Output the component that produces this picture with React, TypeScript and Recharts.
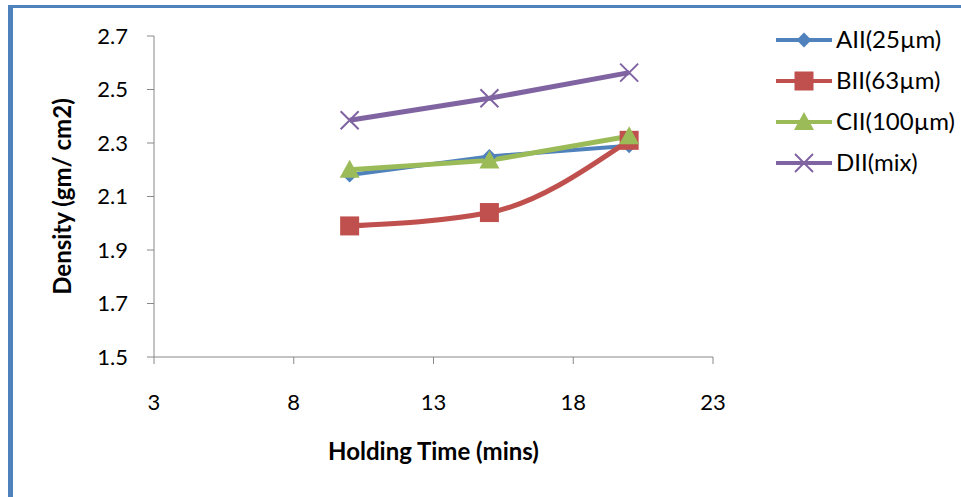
import React from "react";
import { LineChart, Line, XAxis, YAxis, Label } from "recharts";

const holdingTime = [10, 15, 20];
const seriesNames = ["AII(25µm)", "BII(63µm)", "CII(100µm)", "DII(mix)"];
const aii = [2.18, 2.25, 2.29];
const bii = [1.99, 2.04, 2.31];
const cii = [2.2, 2.235, 2.325];
const dii = [2.385, 2.467, 2.563];
const xTicks = [3, 8, 13, 18, 23];
const yTicks = [1.5, 1.7, 1.9, 2.1, 2.3, 2.5, 2.7];

const data = holdingTime.map((t, i) => ({ t, a: aii[i], b: bii[i], c: cii[i], d: dii[i] }));

const FONT = "Lato, 'Open Sans', sans-serif";
const BLUE = "#4F81BD";
const RED = "#C0504D";
const GREEN = "#9BBB59";
const PURPLE = "#8064A2";

function marker(kind: string, cx: number, cy: number, color: string, key?: string) {
  if (kind === "diamond") {
    const r = 7.5;
    return <path key={key} d={`M${cx},${cy - r}L${cx + r},${cy}L${cx},${cy + r}L${cx - r},${cy}Z`} fill={color} />;
  }
  if (kind === "square") {
    const r = 9.5;
    return <rect key={key} x={cx - r} y={cy - r} width={r * 2} height={r * 2} fill={color} />;
  }
  if (kind === "triangle") {
    return <path key={key} d={`M${cx},${cy - 10}L${cx + 10},${cy + 8}L${cx - 10},${cy + 8}Z`} fill={color} />;
  }
  const r = 9;
  return (
    <path key={key} d={`M${cx - r},${cy - r}L${cx + r},${cy + r}M${cx + r},${cy - r}L${cx - r},${cy + r}`} stroke={color} strokeWidth={2} fill="none" />
  );
}

const series = [
  { key: "a", name: seriesNames[0], color: BLUE, kind: "diamond", width: 4, type: "linear" },
  { key: "b", name: seriesNames[1], color: RED, kind: "square", width: 5, type: "monotone" },
  { key: "c", name: seriesNames[2], color: GREEN, kind: "triangle", width: 5, type: "linear" },
  { key: "d", name: seriesNames[3], color: PURPLE, kind: "cross", width: 5, type: "linear" },
];

// legend drawn by hand so it does not eat into the plot area
function LegendBox() {
  return (
    <svg width={185} height={170}>
      {series.map((s, i) => {
        const y = 20 + i * 41;
        return (
          <g key={s.key}>
            <line x1={2} x2={58} y1={y} y2={y} stroke={s.color} strokeWidth={4} />
            {marker(s.kind, 30, y, s.color)}
            <text x={62} y={y + 8} fontSize={24} fontFamily={FONT} fill="#000">
              {s.name}
            </text>
          </g>
        );
      })}
    </svg>
  );
}

export default function App() {
  return (
    <div style={{ position: "absolute", left: 0, top: 0, width: 961, height: 497, background: "#fff", overflow: "hidden" }}>
      <div style={{ position: "absolute", left: 0, top: 0 }}>
        <LineChart
          width={961}
          height={497}
          data={data}
          margin={{ top: 36, right: 248, bottom: 110, left: 40 }}
          style={{ fontFamily: FONT }}
        >
          <XAxis
            dataKey="t"
            type="number"
            domain={[3, 23]}
            ticks={xTicks}
            stroke="#888"
            tickSize={7}
            tickMargin={30}
            height={30}
            tick={{ fill: "#000", fontSize: 22 }}
            tickLine={{ stroke: "#888" }}
          >
            <Label value="Holding Time (mins)" position="bottom" offset={56} fill="#000" fontSize={24} fontWeight="bold" />
          </XAxis>
          <YAxis
            type="number"
            domain={[1.5, 2.7]}
            ticks={yTicks}
            width={114}
            stroke="#888"
            tickSize={7}
            tickMargin={19}
            tick={{ fill: "#000", fontSize: 22 }}
            tickFormatter={(v: number) => v.toFixed(1)}
            interval={0}
          >
            <Label value="Density (gm/ cm2)" angle={-90} position="insideLeft" offset={22} fill="#000" fontSize={24} fontWeight="bold" style={{ textAnchor: "middle" }} />
          </YAxis>
          {series.map((s) => (
            <Line
              key={s.key}
              dataKey={s.key}
              name={s.name}
              type={s.type as "linear" | "monotone"}
              stroke={s.color}
              strokeWidth={s.width}
              isAnimationActive={false}
              dot={(p: { cx: number; cy: number; index: number }) => marker(s.kind, p.cx, p.cy, s.color, `${s.key}-${p.index}`)}
              activeDot={false}
            />
          ))}
        </LineChart>
      </div>
      <div style={{ position: "absolute", left: 774, top: 20 }}>
        <LegendBox />
      </div>
      <div style={{ position: "absolute", left: 8, top: 5, width: 5, height: 492, background: BLUE }} />
      <div style={{ position: "absolute", left: 8, top: 5, width: 953, height: 3, background: BLUE }} />
    </div>
  );
}
